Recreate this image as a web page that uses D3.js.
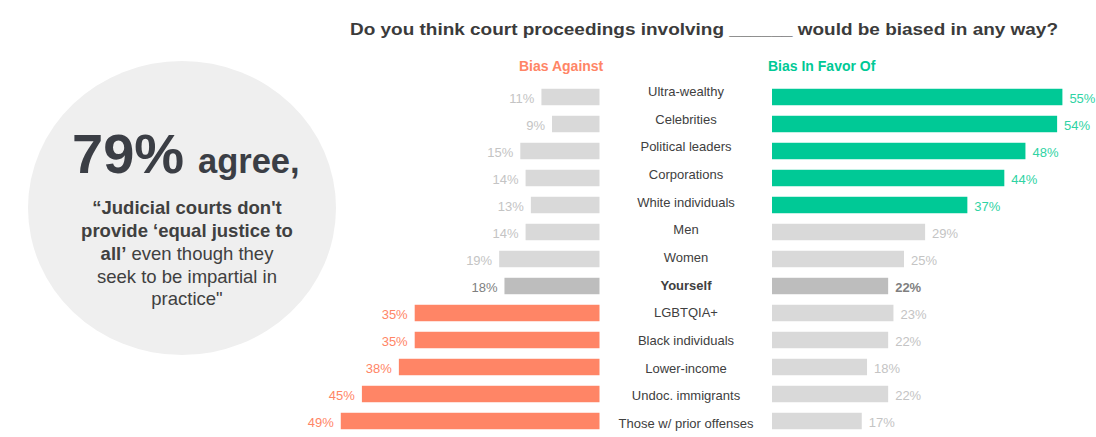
<!DOCTYPE html>
<html>
<head>
<meta charset="utf-8">
<script src="https://cdn.jsdelivr.net/npm/d3@7"></script>
<style>
  body { margin: 0; background: #fff; }
  svg { font-family: "Liberation Sans", Arial, sans-serif; }
</style>
</head>
<body>
<svg id="chart" width="1096" height="437"></svg>
<script>
// data
let categories = ['Ultra-wealthy', 'Celebrities', 'Political leaders', 'Corporations', 'White individuals',
    'Men', 'Women', 'Yourself', 'LGBTQIA+', 'Black individuals', 'Lower-income', 'Undoc. immigrants',
    'Those w/ prior offenses'];
let againstValues = [11, 9, 15, 14, 13, 14, 19, 18, 35, 35, 38, 45, 49];
let favorValues = [55, 54, 48, 44, 37, 29, 25, 22, 23, 22, 18, 22, 17];
let againstHighlighted = ['LGBTQIA+', 'Black individuals', 'Lower-income', 'Undoc. immigrants', 'Those w/ prior offenses'];
let favorHighlighted = ['Ultra-wealthy', 'Celebrities', 'Political leaders', 'Corporations', 'White individuals'];
let selfCategory = 'Yourself';

let titleText = 'Do you think court proceedings involving ______ would be biased in any way?';
let againstTitle = 'Bias Against';
let favorTitle = 'Bias In Favor Of';

let greenColor = '#00c996';
let greenText = '#2fd3a4';
let salmonColor = '#ff8566';
let grayBar = '#d9d9d9';
let selfBar = '#bdbdbd';

let svg = d3.select('#chart');
let rows = categories.map((c, i) => ({cat: c, against: againstValues[i], favor: favorValues[i]}));

// scales
let yScale = d3.scaleBand().domain(categories).range([83.5, 83.5 + 13 * 27]).paddingInner(0.39).paddingOuter(0.195);
let labelY = d3.scalePoint().domain(categories).range([96, 428]);
let pxPerPct = 5.28;
let xRight = d3.scaleLinear().domain([0, 60]).range([772, 772 + 60 * pxPerPct]);
let xLeft = d3.scaleLinear().domain([0, 60]).range([599.5, 599.5 - 60 * pxPerPct]);

// circle callout
svg.append('ellipse')
    .attr('cx', 182).attr('cy', 208).attr('rx', 154).attr('ry', 147)
    .attr('fill', '#efefef');

let big = svg.append('text').attr('y', 173).attr('fill', '#3b3e45').attr('font-weight', 'bold');
big.append('tspan').attr('x', 72).attr('font-size', 56).text('79%');
big.append('tspan').attr('x', 198).attr('font-size', 34.5).text('agree,');

let quote = svg.append('g').attr('fill', '#404040').attr('font-size', 18.5).attr('text-anchor', 'middle');
quote.append('text').attr('x', 187).attr('y', 214).attr('font-weight', 'bold').text('\u201cJudicial courts don\'t');
quote.append('text').attr('x', 187).attr('y', 237).attr('font-weight', 'bold').text('provide \u2018equal justice to');
let l3 = quote.append('text').attr('x', 187).attr('y', 260);
l3.append('tspan').attr('font-weight', 'bold').text('all\u2019');
l3.append('tspan').text(' even though they');
quote.append('text').attr('x', 187).attr('y', 283).text('seek to be impartial in');
quote.append('text').attr('x', 187).attr('y', 305).text('practice"');

// title
svg.append('text')
    .attr('x', 350).attr('y', 35)
    .attr('font-size', 16.5).attr('font-weight', 'bold').attr('fill', '#3b3b3b')
    .attr('textLength', 708).attr('lengthAdjust', 'spacingAndGlyphs')
    .text(titleText);

svg.append('text').attr('x', 519).attr('y', 71)
    .attr('font-size', 14).attr('font-weight', 'bold').attr('fill', salmonColor).text(againstTitle);
svg.append('text').attr('x', 768).attr('y', 71)
    .attr('font-size', 14).attr('font-weight', 'bold').attr('fill', greenColor).text(favorTitle);

function againstFill(d) {
    if (againstHighlighted.includes(d.cat)) return salmonColor;
    return d.cat === selfCategory ? selfBar : grayBar;
}
function favorFill(d) {
    if (favorHighlighted.includes(d.cat)) return greenColor;
    return d.cat === selfCategory ? selfBar : grayBar;
}
function againstTextFill(d) {
    if (againstHighlighted.includes(d.cat)) return salmonColor;
    return d.cat === selfCategory ? '#7f7f7f' : '#c4c4c4';
}
function favorTextFill(d) {
    if (favorHighlighted.includes(d.cat)) return greenText;
    return d.cat === selfCategory ? '#7f7f7f' : '#c4c4c4';
}

// left bars
let leftG = svg.append('g');
leftG.selectAll('rect').data(rows).enter().append('rect')
    .attr('x', d => xLeft(d.against))
    .attr('y', d => yScale(d.cat))
    .attr('width', d => xLeft(0) - xLeft(d.against))
    .attr('height', yScale.bandwidth())
    .attr('fill', againstFill);
leftG.selectAll('text').data(rows).enter().append('text')
    .attr('x', d => xLeft(d.against) - 7)
    .attr('y', d => yScale(d.cat) + yScale.bandwidth() / 2 + 5.5)
    .attr('text-anchor', 'end')
    .attr('font-size', 13)
    .attr('fill', againstTextFill)
    .text(d => d.against + '%');

// right bars
let rightG = svg.append('g');
rightG.selectAll('rect').data(rows).enter().append('rect')
    .attr('x', xRight(0))
    .attr('y', d => yScale(d.cat))
    .attr('width', d => xRight(d.favor) - xRight(0))
    .attr('height', yScale.bandwidth())
    .attr('fill', favorFill);
rightG.selectAll('text').data(rows).enter().append('text')
    .attr('x', d => xRight(d.favor) + 7)
    .attr('y', d => yScale(d.cat) + yScale.bandwidth() / 2 + 5.5)
    .attr('font-size', 13)
    .attr('font-weight', d => d.cat === selfCategory ? 'bold' : 'normal')
    .attr('fill', favorTextFill)
    .text(d => d.favor + '%');

// category labels
svg.append('g').selectAll('text').data(rows).enter().append('text')
    .attr('x', 686)
    .attr('y', d => labelY(d.cat))
    .attr('text-anchor', 'middle')
    .attr('font-size', 13)
    .attr('font-weight', d => d.cat === selfCategory ? 'bold' : 'normal')
    .attr('fill', '#404040')
    .text(d => d.cat);
</script>
</body>
</html>
